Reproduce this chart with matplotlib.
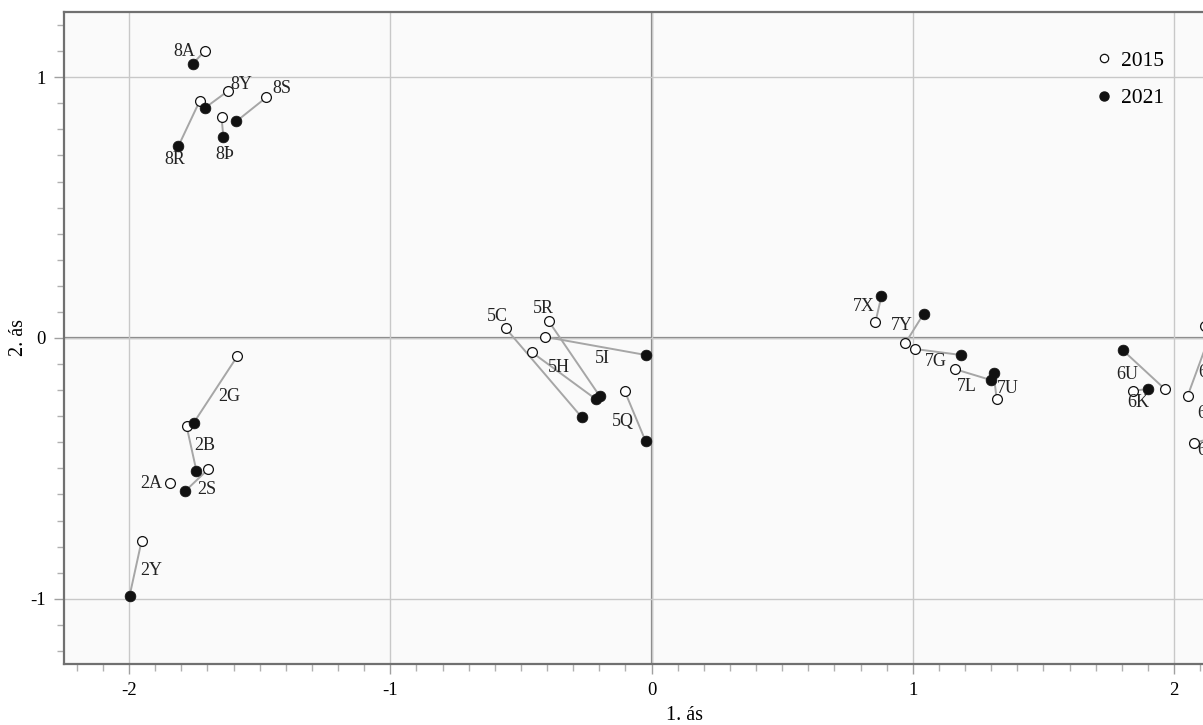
import numpy as np
import matplotlib
matplotlib.use("Agg")
import matplotlib.pyplot as plt
from matplotlib.lines import Line2D

plt.rcParams['font.family'] = ['Liberation Serif', 'DejaVu Serif']
plt.rcParams['axes.unicode_minus'] = False

# hópar og hnit (1. ás, 2. ás) árin 2015 og 2021
labels = ["8A", "8Y", "8R", "8S", "8Þ",
          "2G", "2B", "2S", "2A", "2Y",
          "5C", "5R", "5H", "5I", "5Q",
          "7X", "7Y", "7G", "7L", "7U",
          "6U", "6K", "6A", "6B", "6C"]
x2015 = [-1.711, -1.623, -1.730, -1.474, -1.646,
         -1.585, -1.780, -1.696, -1.843, -1.952,
         -0.559, -0.394, -0.459, -0.406, -0.103,
         0.857, 0.972, 1.007, 1.160, 1.321,
         1.964, 1.841, 2.052, 2.118, 2.075]
y2015 = [1.100, 0.946, 0.908, 0.923, 0.847,
         -0.069, -0.337, -0.502, -0.556, -0.778,
         0.038, 0.065, -0.054, 0.004, -0.203,
         0.061, -0.019, -0.042, -0.119, -0.234,
         -0.195, -0.203, -0.222, 0.046, -0.402]
x2021 = [-1.757, -1.711, -1.811, -1.589, -1.639,
         -1.753, -1.742, -1.784, np.nan, -1.998,
         -0.268, -0.199, -0.214, -0.023, -0.023,
         0.880, 1.041, 1.183, 1.298, 1.309,
         1.803, 1.902, 2.170, 2.300, 2.250]
y2021 = [1.050, 0.881, 0.736, 0.831, 0.770,
         -0.326, -0.510, -0.586, np.nan, -0.989,
         -0.303, -0.222, -0.234, -0.065, -0.395,
         0.161, 0.092, -0.065, -0.161, -0.134,
         -0.046, -0.195, 0.100, 0.020, -0.360]

# staðsetning merkja miðað við 2015 punktinn (pixlar)
label_offsets = {
    "8A": (-20, 0), "8Y": (14, 7), "8R": (-25, -58), "8S": (15, 9), "8Þ": (3, -37),
    "2G": (-8, -41), "2B": (18, -20), "2S": (-2, -21), "2A": (-19, 0), "2Y": (10, -30),
    "5C": (-8, 12), "5R": (-5, 13), "5H": (27, -15), "5I": (57, -22), "5Q": (-2, -31),
    "7X": (-12, 16), "7Y": (-4, 17), "7G": (21, -13), "7L": (12, -17), "7U": (11, 11),
    "6U": (-37, 14), "6K": (6, -12), "6A": (21, -18), "6B": (4, -46), "6C": (14, -8),
}

W, H = 1203, 725
fig = plt.figure(figsize=(W / 100, H / 100), dpi=100)
fig.patch.set_facecolor("white")
xlim = (-2.249, 2.5)
ylim = (-1.25, 1.25)
# ásinn nær út fyrir hægri brún myndarinnar eins og í fyrirmyndinni
ax = fig.add_axes([64 / W, 61 / H, (xlim[1] - xlim[0]) * 261.25 / W, 652 / H])
ax.set_facecolor("#fafafa")
ax.set_xlim(*xlim)
ax.set_ylim(*ylim)

ax.set_xticks([-2, -1, 0, 1, 2])
ax.set_yticks([-1, 0, 1])
ax.set_xticks(np.arange(-22, 25) / 10, minor=True)
ax.set_yticks(np.arange(-12, 13) / 10, minor=True)
ax.set_xticklabels(["-2", "-1", "0", "1", "2"])
ax.set_yticklabels(["-1", "0", "1"])
ax.grid(True, which="major", color="#c8c8c8", linewidth=1.0, zorder=0)
ax.axhline(0, color="#808080", linewidth=1.6, zorder=1)
ax.axvline(0, color="#808080", linewidth=1.6, zorder=1)
ax.tick_params(which="major", length=7, width=1, color="#a0a0a0", labelsize=13.5, pad=6)
ax.tick_params(which="minor", length=5, width=1, color="#b0b0b0")
for s in ax.spines.values():
    s.set_color("#707070")
    s.set_linewidth(1.6)

ax.set_xlabel("1. ás", fontsize=14.5, labelpad=5)
ax.set_ylabel("2. ás", fontsize=14.5, labelpad=2)

for i in range(len(labels)):
    ax.plot([x2015[i], x2021[i]], [y2015[i], y2021[i]], color="#a6a6a6",
            linewidth=1.4, zorder=2)
ax.scatter(x2015, y2015, s=50, facecolor="white", edgecolor="#111111",
           linewidth=0.9, zorder=3)
ax.scatter(x2021, y2021, s=60, facecolor="#111111", edgecolor="#111111",
           linewidth=0.5, zorder=4)

for i, lab in enumerate(labels):
    dx, dy = label_offsets[lab]
    ax.annotate(lab, (x2015[i], y2015[i]), xytext=(dx, dy),
                textcoords="offset pixels", ha="center", va="center",
                fontsize=13, color="#222222", zorder=5)

handles = [Line2D([], [], linestyle="none", marker="o", markersize=6,
                  markerfacecolor="white", markeredgecolor="#111111",
                  markeredgewidth=0.9, label="2015"),
           Line2D([], [], linestyle="none", marker="o", markersize=6.5,
                  markerfacecolor="#111111", markeredgecolor="#111111",
                  label="2021")]
ax.legend(handles=handles, loc="upper left", frameon=False, fontsize=15.5,
          bbox_to_anchor=(1080 / W, 1 - 40 / H), bbox_transform=fig.transFigure,
          handletextpad=0.2, labelspacing=0.8, handlelength=1.2, borderpad=0)

fig.savefig("out.png", dpi=100)
